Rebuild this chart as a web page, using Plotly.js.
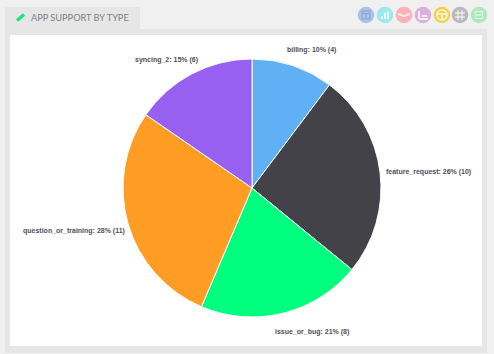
<!DOCTYPE html>
<html>
<head>
<meta charset="utf-8">
<script src="https://cdn.plot.ly/plotly-3.0.1.min.js"></script>
<style>html,body{margin:0;padding:0;background:#f0f0f0;overflow:hidden}</style>
</head>
<body>
<div id="chart" style="width:494px;height:354px"></div>
<script>
const categories = ["billing", "feature_request", "issue_or_bug", "question_or_training", "syncing_2"];
const counts = [4, 10, 8, 11, 6];
const sliceColors = ["#5fb0f5", "#434248", "#00ff7f", "#ff9c24", "#9860f0"];
const chartTitle = "APP SUPPORT BY TYPE";
const iconX = [366, 385, 404, 423, 442, 460, 479];
const iconColors = ["#a9c4e8", "#9be8ee", "#ffb0b5", "#dcb0dc", "#f2d350", "#b9b9b9", "#aeeab9"];
const labelCenterX = [311.5, 428, 311.5, 74, 166.5];
const labelCenterY = [50, 172, 332, 231, 60];

const W = 494, H = 354;
const px = x => x / W, py = y => 1 - y / H;
const rect = (x0, y0, x1, y1, fill) => ({type:"rect", xref:"paper", yref:"paper", x0:px(x0), x1:px(x1), y0:py(y0), y1:py(y1), fillcolor:fill, line:{width:0}, layer:"below"});
const seg = (x0, y0, x1, y1, color, w) => ({type:"line", xref:"paper", yref:"paper", x0:px(x0), x1:px(x1), y0:py(y0), y1:py(y1), line:{color:color, width:w}, layer:"below"});
const circ = (cx, cy, r, fill, stroke, w) => ({type:"circle", xref:"paper", yref:"paper", x0:px(cx-r), x1:px(cx+r), y0:py(cy-r), y1:py(cy+r), fillcolor:fill, line:{color:stroke||fill, width:w||0}, layer:"below"});

const shapes = [
  rect(5, 29, 487, 353, "#e6e6e6"),
  rect(5, 7, 140, 30, "#e6e6e6"),
  rect(10, 35, 482, 346, "#ffffff"),
  seg(17, 20.5, 24, 14.5, "#12e878", 3.2)
];
iconX.forEach((x, i) => shapes.push(circ(x, 15, 8.3, iconColors[i])));
const g = "rgba(255,255,255,0.8)";
const ib = "#86a4d2";
shapes.push(
  seg(361.5, 11, 370.5, 11, ib, 1), seg(361.5, 19, 370.5, 19, ib, 1), seg(362, 11, 362, 19, ib, 1), seg(370, 11, 370, 19, ib, 1),
  seg(362, 13.5, 370, 13.5, ib, 1), seg(366, 13.5, 366, 19, ib, 1),
  seg(382, 19, 382, 16, g, 2), seg(385, 19, 385, 13, g, 2), seg(388, 19, 388, 11, g, 2),
  seg(398, 14, 402, 15, g, 2), seg(406, 15, 410, 14, g, 2), seg(402, 16, 406, 16, g, 2),
  seg(419, 11, 419, 19, g, 2), seg(419, 19, 428, 19, g, 2), seg(422, 16, 427, 16, g, 2),
  circ(442, 15, 5, "rgba(0,0,0,0)", g, 1.6), seg(437, 14, 447, 14, g, 1.6), seg(442, 15, 442, 20, g, 1.6),
  seg(458, 10, 458, 20, g, 1.2), seg(462, 10, 462, 20, g, 1.2), seg(455, 13, 465, 13, g, 1.2), seg(455, 17, 465, 17, g, 1.2),
  rect(475, 11, 483, 19, g), rect(476, 12, 482, 14.5, "#aeeab9"), rect(476, 15.5, 482, 18, "#aeeab9")
);

const trace = {
  type: "pie",
  labels: categories,
  values: counts,
  sort: false,
  direction: "clockwise",
  rotation: 0,
  marker: {colors: sliceColors, line: {color: "#ffffff", width: 1}},
  textinfo: "none",
  automargin: false,
  domain: {x: [px(123), px(381)], y: [py(317), py(59)]},
  hoverinfo: "label+value+percent"
};

const total = counts.reduce((a, b) => a + b, 0);
const labelNotes = categories.map((c, i) => ({
  text: `${c}: ${Math.round(counts[i] / total * 100)}% (${counts[i]})`,
  xref:"paper", yref:"paper", x:px(labelCenterX[i]), y:py(labelCenterY[i]),
  xanchor:"center", yanchor:"middle", showarrow:false, borderpad:0,
  font:{family:"Liberation Sans, Arial, sans-serif", size:7, color:"#50505c", weight:"bold"}
}));

const layout = {
  width: W, height: H,
  margin: {l:0, r:0, t:0, b:0},
  paper_bgcolor: "#f0f0f0",
  showlegend: false,
  shapes: shapes,
  annotations: [{
    text: chartTitle, xref:"paper", yref:"paper", x:px(30), y:py(18),
    xanchor:"left", yanchor:"middle", showarrow:false, borderpad:0,
    font:{family:"Lato, sans-serif", size:9.2, color:"#7c7f8c"}
  }].concat(labelNotes)
};
Plotly.newPlot("chart", [trace], layout, {displayModeBar:false, responsive:false});
</script>
</body>
</html>
